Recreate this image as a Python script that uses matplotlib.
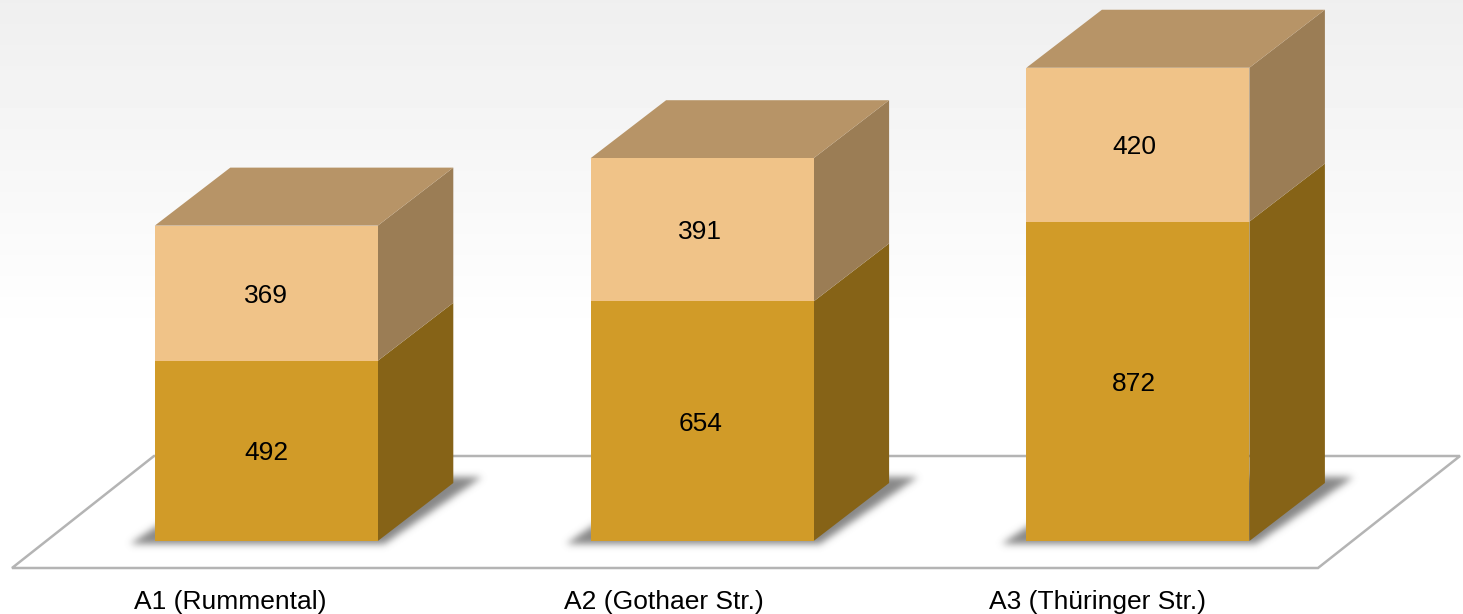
import numpy as np
import matplotlib
matplotlib.use('Agg')
import matplotlib.pyplot as plt
from matplotlib.patches import Polygon
from matplotlib.path import Path

# values
categories = ['A1 (Rummental)', 'A2 (Gothaer Str.)', 'A3 (Thüringer Str.)']
lower_values = [492, 654, 872]
upper_values = [369, 391, 420]

W, H = 1463, 614
PX_X = 435.8    # pixels per category
PX_Y = 0.3663   # pixels per unit
X0, Y0 = 266.3, 541.0

bar_w = 223 / PX_X
dx = 75.5 / PX_X
dy = 58 / PX_Y

plt.rcParams['font.family'] = ['Liberation Sans', 'DejaVu Sans']

fig = plt.figure(figsize=(W / 100, H / 100), dpi=100)
ax = fig.add_axes([0, 0, 1, 1])
ax.set_xlim(-X0 / PX_X, (W - X0) / PX_X)
ax.set_ylim(-(H - Y0) / PX_Y, Y0 / PX_Y)
ax.axis('off')
extent = [*ax.get_xlim(), *ax.get_ylim()]


def px(x, y):
    # pixel position to data position, for the decoration only
    return ((x - X0) / PX_X, (Y0 - y) / PX_Y)


# background fades from light grey to white
ramp = np.ones((H, 1))
ramp[:340, 0] = np.linspace(0.937, 1.0, 340)
ax.imshow(ramp, cmap='gray', vmin=0, vmax=1, aspect='auto', zorder=0, extent=extent)

# floor
floor = [px(12, 568), px(1318, 568), px(1460, 456), px(154, 456)]
ax.add_patch(Polygon(floor, closed=True, facecolor='white', edgecolor='#b4b4b4',
                     linewidth=1.8, zorder=1))

# soft shadows under the bars, one blurred mask for all three
xx, yy = np.meshgrid(np.arange(W) + 0.5, np.arange(H) + 0.5)
grid = np.column_stack([xx.ravel(), yy.ravel()])
mask = np.zeros((H, W))
for i in range(len(categories)):
    off = i * PX_X
    shadow = [(130 + off, 544), (384 + off, 544), (482 + off, 477), (230 + off, 477)]
    mask += Path(shadow).contains_points(grid).reshape(H, W)
kernel = np.exp(-0.5 * (np.arange(-12, 13) / 3.6) ** 2)
kernel /= kernel.sum()
mask = np.apply_along_axis(lambda r: np.convolve(r, kernel, mode='same'), 0, mask)
mask = np.apply_along_axis(lambda r: np.convolve(r, kernel, mode='same'), 1, mask)
shadow_img = np.zeros((H, W, 4))
shadow_img[..., :3] = 0.45
shadow_img[..., 3] = mask * 0.85
ax.imshow(shadow_img, aspect='auto', zorder=2, extent=extent)


def draw_segment(i, bottom, value, front, side, top=None):
    left = i - bar_w / 2
    right = i + bar_w / 2
    upper = bottom + value
    ax.bar(i, value, width=bar_w, bottom=bottom, color=front, linewidth=0, zorder=4)
    side_pts = [(right, bottom), (right + dx, bottom + dy), (right + dx, upper + dy), (right, upper)]
    ax.add_patch(Polygon(side_pts, closed=True, facecolor=side, edgecolor='none', zorder=3))
    if top is not None:
        top_pts = [(left, upper), (right, upper), (right + dx, upper + dy), (left + dx, upper + dy)]
        ax.add_patch(Polygon(top_pts, closed=True, facecolor=top, edgecolor='none', zorder=3))
    # labels sit a little left of the bars on the later categories
    ax.text(i * 0.9955, bottom + value / 2 - 2.5 / PX_Y, str(value), ha='center', va='center',
            fontsize=19, color='black', zorder=5)


for i, (low, up) in enumerate(zip(lower_values, upper_values)):
    draw_segment(i, 0, low, '#d19b28', '#866317')
    draw_segment(i, low, up, '#f0c388', '#9b7d55', top='#b79467')

for i, name in enumerate(categories):
    ax.text(i * 0.9955 - 0.083, -60.5 / PX_Y, name, ha='center', va='center',
            fontsize=19, color='black', zorder=5)

fig.savefig('out.png', dpi=100)
